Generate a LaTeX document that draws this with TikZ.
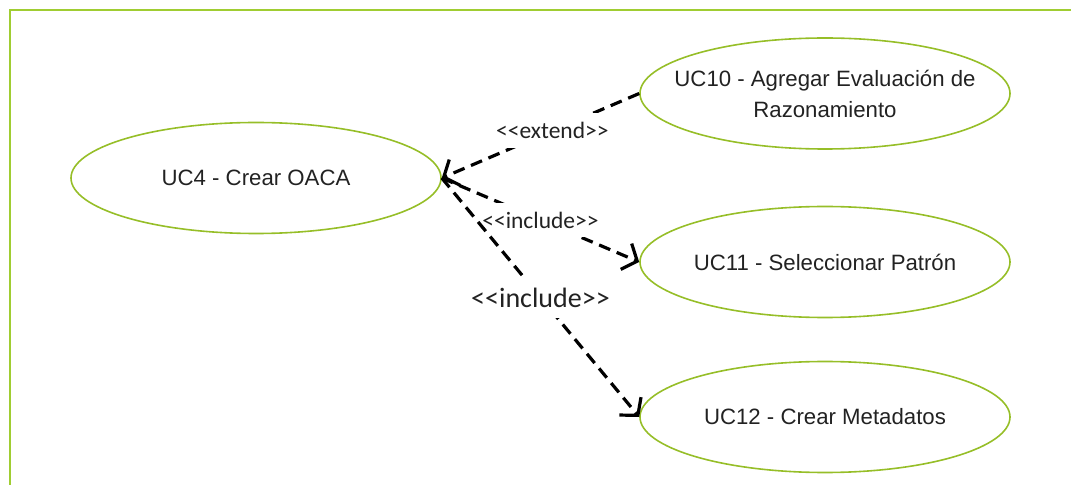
\documentclass[tikz,border=0pt]{standalone}
\usepackage{fontspec}
\setmainfont{Liberation Sans}[Ligatures=TeXOff]
\newfontfamily\lblfont{Carlito}[Ligatures=TeXOff]
\usetikzlibrary{arrows.meta,shapes.geometric}
\definecolor{ucgreen}{RGB}{150,190,40}
\definecolor{framegreen}{RGB}{160,205,50}
\definecolor{txtgray}{RGB}{34,34,34}
\begin{document}
\begin{tikzpicture}[x=1bp,y=-1bp,
  usecase/.style={ellipse, draw=ucgreen, line width=1.6bp, minimum width=370bp, minimum height=111bp, inner sep=0pt},
  uctext/.style={inner sep=0pt, text=txtgray, align=center, font=\fontsize{22.2bp}{31bp}\selectfont},
  rel/.style={draw=black, line width=3.2bp, dash pattern=on 12bp off 7bp, -{Straight Barb[length=12bp,width=28bp]}},
  stereo/.style={fill=white, inner xsep=2bp, inner ysep=9bp, text=txtgray, font=\lblfont\fontsize{23.5bp}{26bp}\selectfont},
  stereobig/.style={stereo, inner ysep=11bp, font=\lblfont\fontsize{28bp}{30bp}\selectfont}]
\useasboundingbox (0,0) rectangle (1071,485);
\draw[framegreen, line width=2bp] (9.5,485) -- (9.5,10) -- (1071,10);

\node[usecase] (uc4) at (256,178) {};
\node[uctext] (uc4t) at (uc4) {UC4 - Crear OACA};
\node[usecase] (uc10) at (825,93.5) {};
\node[uctext] (uc10t) at (uc10) {UC10 - Agregar Evaluación de\\Razonamiento};
\node[usecase] (uc11) at (825,262) {};
\node[uctext] (uc11t) at (uc11) {UC11 - Seleccionar Patrón};
\node[usecase] (uc12) at (825,417) {};
\node[uctext] (uc12t) at (uc12) {UC12 - Crear Metadatos};

\draw[rel] (uc10.west) -- node[stereo, pos=0.44] (lext) {<<extend>>} (uc4.east);
\draw[rel] (uc4.east) -- node[stereo, pos=0.5] (linc1) {<<include>>} (uc11.west);
\draw[rel] (uc4.east) -- node[stereobig, pos=0.5] (linc2) {<<include>>} (uc12.west);
\end{tikzpicture}
\end{document}
